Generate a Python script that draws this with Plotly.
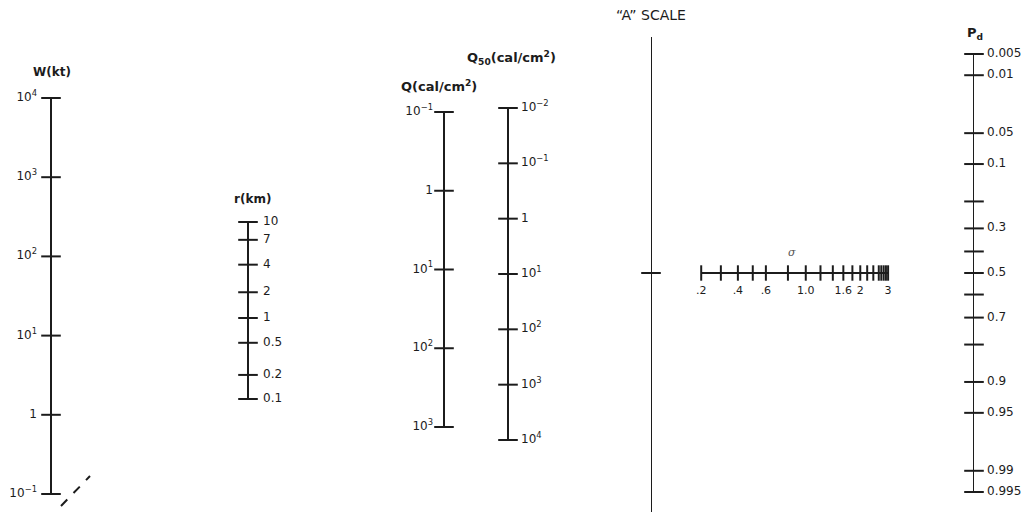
import math
from statistics import NormalDist
import plotly.graph_objects as go

# ---------------- data ----------------
W_VALUES = [1e-1, 1, 1e1, 1e2, 1e3, 1e4]
W_LABELS = ["10<sup>−1</sup>", "1", "10<sup>1</sup>", "10<sup>2</sup>", "10<sup>3</sup>", "10<sup>4</sup>"]

R_VALUES = [0.1, 0.2, 0.5, 1, 2, 4, 7, 10]
R_LABELS = ["0.1", "0.2", "0.5", "1", "2", "4", "7", "10"]

Q_VALUES = [1e-1, 1, 1e1, 1e2, 1e3]
Q_LABELS = ["10<sup>−1</sup>", "1", "10<sup>1</sup>", "10<sup>2</sup>", "10<sup>3</sup>"]

Q50_VALUES = [1e-2, 1e-1, 1, 1e1, 1e2, 1e3, 1e4]
Q50_LABELS = ["10<sup>−2</sup>", "10<sup>−1</sup>", "1", "10<sup>1</sup>",
              "10<sup>2</sup>", "10<sup>3</sup>", "10<sup>4</sup>"]

PD_VALUES = [0.005, 0.01, 0.05, 0.1, 0.2, 0.3, 0.4, 0.5, 0.6, 0.7, 0.8, 0.9, 0.95, 0.99, 0.995]
PD_LABELS = ["0.005", "0.01", "0.05", "0.1", "", "0.3", "", "0.5", "", "0.7", "", "0.9",
             "0.95", "0.99", "0.995"]

SIGMA_VALUES = [0.2, 0.3, 0.4, 0.5, 0.6, 0.8, 1.0, 1.2, 1.4, 1.6, 1.8, 2.0,
                2.2, 2.4, 2.6, 2.7, 2.8, 2.9, 3.0]
SIGMA_LABELS = [".2", "", ".4", "", ".6", "", "1.0", "", "", "1.6", "", "2",
                "", "", "", "", "", "", "3"]

A_MARK_PD = [0.5]   # the single mark on the "A" scale sits at the Pd = 0.5 level

# ---------------- scale transforms ----------------
R_ATTEN = 0.0233          # atmospheric attenuation term of the r scale
SIGMA_K = 0.92            # sigma scale: k*s/(1+k*s) between A scale and Pd scale
probit = NormalDist().inv_cdf


def r_scale(r):
    return math.log10(r) + R_ATTEN * r


def sigma_scale(s):
    return SIGMA_K * s / (1 + SIGMA_K * s)


# ---------------- layout geometry ----------------
FIG_W, FIG_H = 1028, 512
INK = "#1c1c1c"
FONT = "DejaVu Sans"
LABEL_SIZE = 12


def vf(py):
    return (FIG_H - py) / FIG_H


def hf(px):
    return px / FIG_W


X_W, X_R, X_Q, X_Q50 = 51, 248, 444, 508
X_A, X_PD = 651, 974

fig = go.Figure()

common = dict(showlegend=False, hoverinfo="skip", cliponaxis=False)


def gap_size(g):
    # marker size that makes plotly offset text by g pixels
    return 1.6 * (g - 1)


def labelled(vals, labels):
    pairs = [(v, t) for v, t in zip(vals, labels) if t]
    return [p[0] for p in pairs], [p[1] for p in pairs]


def vscale(xa, ya, xpos, yvals, labels, side, gap):
    lo, hi = min(yvals), max(yvals)
    fig.add_trace(go.Scatter(x=[xpos, xpos], y=[lo, hi], mode="lines", xaxis=xa, yaxis=ya,
                             line=dict(color=INK, width=2), **common))
    fig.add_trace(go.Scatter(x=[xpos] * len(yvals), y=yvals, mode="markers", xaxis=xa, yaxis=ya,
                             marker=dict(symbol="line-ew", size=14,
                                         line=dict(color=INK, width=2)), **common))
    lv, lt = labelled(yvals, labels)
    fig.add_trace(go.Scatter(x=[xpos] * len(lv), y=lv, mode="markers+text", xaxis=xa, yaxis=ya,
                             text=lt, textposition="middle " + side,
                             textfont=dict(family=FONT, size=LABEL_SIZE, color=INK),
                             marker=dict(size=gap_size(gap), color="rgba(0,0,0,0)"), **common))


vscale("x", "y2", X_W, W_VALUES, W_LABELS, "left", 14)
vscale("x", "y3", X_R, [r_scale(v) for v in R_VALUES], R_LABELS, "right", 15)
vscale("x", "y4", X_Q, Q_VALUES, Q_LABELS, "left", 11)
vscale("x", "y5", X_Q50, Q50_VALUES, Q50_LABELS, "right", 13)
vscale("x2", "y6", 1, [probit(p) for p in PD_VALUES], PD_LABELS, "right", 13)

# A scale mark
fig.add_trace(go.Scatter(x=[0] * len(A_MARK_PD), y=[probit(p) for p in A_MARK_PD], mode="markers",
                         xaxis="x2", yaxis="y6",
                         marker=dict(symbol="line-ew", size=14, line=dict(color=INK, width=2)),
                         **common))

# sigma scale (horizontal, at the Pd = 0.5 level)
sx = [sigma_scale(s) for s in SIGMA_VALUES]
level = probit(0.5)
fig.add_trace(go.Scatter(x=[min(sx), max(sx)], y=[level, level], mode="lines", xaxis="x2", yaxis="y6",
                         line=dict(color=INK, width=2), **common))
fig.add_trace(go.Scatter(x=sx, y=[level] * len(sx), mode="markers", xaxis="x2", yaxis="y6",
                         marker=dict(symbol="line-ns", size=11, line=dict(color=INK, width=2)),
                         **common))
slx, slt = labelled(sx, SIGMA_LABELS)
fig.add_trace(go.Scatter(x=slx, y=[level] * len(slx), mode="markers+text", xaxis="x2", yaxis="y6",
                         text=slt, textposition="bottom center",
                         textfont=dict(family=FONT, size=11, color=INK),
                         marker=dict(size=18, color="rgba(0,0,0,0)"), **common))

hidden = dict(visible=False, showgrid=False, zeroline=False, fixedrange=True)

fig.update_layout(
    width=FIG_W, height=FIG_H, autosize=False,
    margin=dict(l=0, r=0, t=0, b=0, pad=0),
    paper_bgcolor="white", plot_bgcolor="rgba(0,0,0,0)",
    xaxis=dict(range=[0, FIG_W], domain=[0, 1], anchor="y", **hidden),
    yaxis=dict(range=[FIG_H, 0], domain=[0, 1], anchor="x", **hidden),
    yaxis2=dict(type="log", range=[math.log10(min(W_VALUES)), math.log10(max(W_VALUES))],
                domain=[vf(494), vf(98)], anchor="x", **hidden),
    yaxis3=dict(range=[r_scale(min(R_VALUES)), r_scale(max(R_VALUES))],
                domain=[vf(399), vf(222)], anchor="x", **hidden),
    yaxis4=dict(type="log", range=[math.log10(max(Q_VALUES)), math.log10(min(Q_VALUES))],
                domain=[vf(427), vf(112)], anchor="x", **hidden),
    yaxis5=dict(type="log", range=[math.log10(max(Q50_VALUES)), math.log10(min(Q50_VALUES))],
                domain=[vf(440), vf(108)], anchor="x", **hidden),
    yaxis6=dict(range=[probit(max(PD_VALUES)), probit(min(PD_VALUES))],
                domain=[vf(492), vf(54)], anchor="x2", **hidden),
    xaxis2=dict(range=[0, 1], domain=[hf(X_A), hf(X_PD)], anchor="y6", **hidden),
)

# "A" scale line
fig.add_shape(type="line", xref="x2", x0=0, x1=0, yref="paper", y0=0, y1=vf(37),
              line=dict(color=INK, width=2))
# stray connecting-line fragment below the W scale
fig.add_shape(type="line", xref="x", yref="y", x0=61, y0=506, x1=90, y1=476,
              line=dict(color=INK, width=2, dash="dash"))

titles = [
    ("<b>W(kt)</b>", 52, 72, 12),
    ("<b>r(km)</b>", 252, 199, 12),
    ("<b>Q(cal/cm<sup>2</sup>)</b>", 439, 86, 13),
    ("<b>Q<sub>50</sub>(cal/cm<sup>2</sup>)</b>", 511, 58, 13),
    ("“A” SCALE", 651, 15, 14),
    ("<b>P<sub>d</sub></b>", 975, 33, 13),
]
for txt, x, y, size in titles:
    fig.add_annotation(text=txt, x=x, y=y, xref="x", yref="y", showarrow=False,
                       xanchor="center", yanchor="middle",
                       font=dict(family=FONT, size=size, color=INK))
fig.add_annotation(text="<i>σ</i>", x=792, y=252, xref="x", yref="y", showarrow=False,
                   font=dict(family="DejaVu Serif", size=11, color="#555555"))

fig.write_html("out.html", config={"displayModeBar": False},
               post_script="document.body.style.margin='0px';document.body.style.overflow='hidden';")
